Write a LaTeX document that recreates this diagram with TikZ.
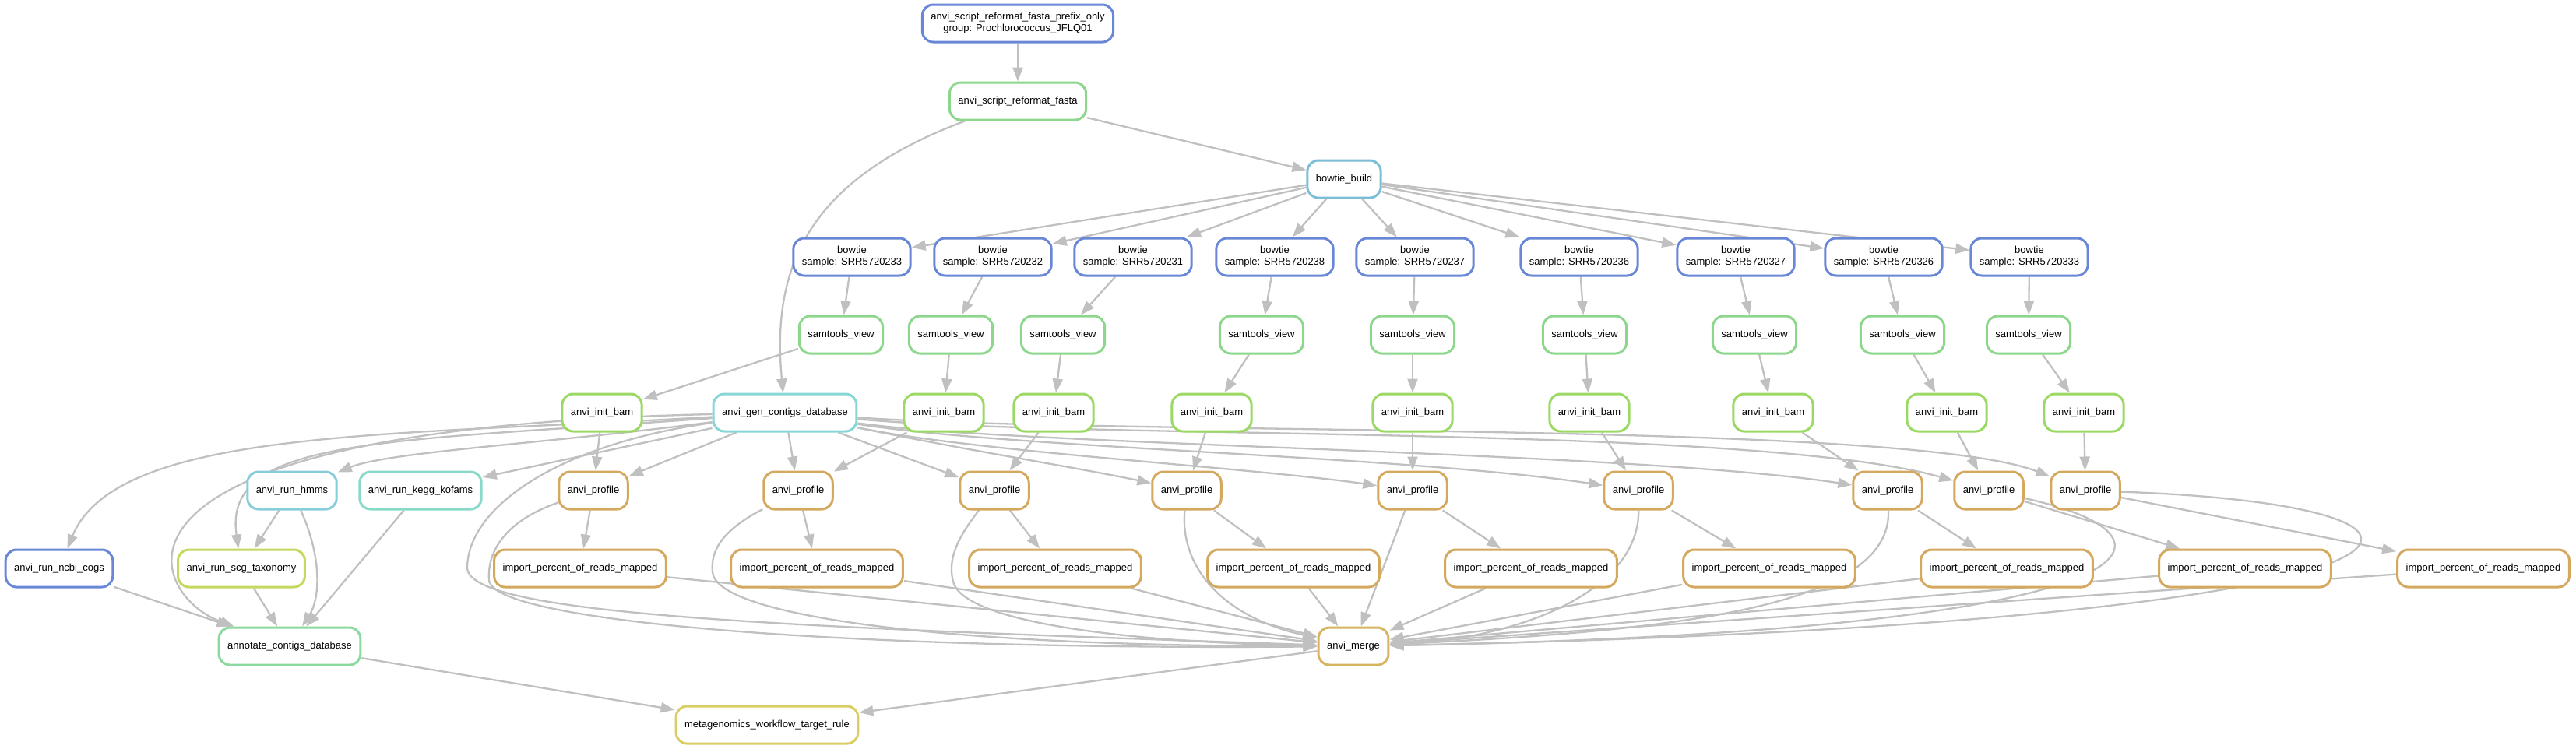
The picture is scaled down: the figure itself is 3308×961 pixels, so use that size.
\documentclass[tikz,border=0pt]{standalone}
\usepackage{fontspec}
\setmainfont{Liberation Sans}
\usetikzlibrary{arrows.meta}
\pgfdeclarelayer{background}
\pgfsetlayers{background,main}
\definecolor{cblue}{RGB}{105,135,215}
\definecolor{cbuild}{RGB}{125,190,215}
\definecolor{cgreen}{RGB}{140,215,140}
\definecolor{cinit}{RGB}{155,217,100}
\definecolor{cgen}{RGB}{135,215,215}
\definecolor{chmm}{RGB}{135,205,218}
\definecolor{ckegg}{RGB}{135,217,200}
\definecolor{cscg}{RGB}{195,217,95}
\definecolor{canno}{RGB}{140,217,160}
\definecolor{cgold}{RGB}{212,168,95}
\definecolor{cmerge}{RGB}{215,180,95}
\definecolor{ctarget}{RGB}{217,205,100}
\definecolor{depgray}{RGB}{192,192,192}
\begin{document}
\begin{tikzpicture}[x=1pt,y=-1pt]
	\tikzstyle{job}=[rectangle,rounded corners=14pt,line width=3pt,fill=white,minimum height=48pt,inner xsep=11pt,inner ysep=3pt,align=center,font=\fontsize{13}{15}\selectfont]
	\tikzstyle{dep}=[draw,line width=2.3pt,color=depgray,-{Triangle[length=18pt,width=13pt]}]
	\useasboundingbox (0,0) rectangle (3308,961);
	\begin{scope}
		% reference preparation
		\node [job,draw=cblue] (prefix) at (1307,30) {anvi\_script\_reformat\_fasta\_prefix\_only\\group: Prochlorococcus\_JFLQ01};
		\node [job,draw=cgreen] (reformat) at (1307,130) {anvi\_script\_reformat\_fasta};
		\node [job,draw=cbuild] (build) at (1726,230) {bowtie\_build};
		% mapping
		\node [job,draw=cblue] (bt1) at (1094,330) {bowtie\\sample: SRR5720233};
		\node [job,draw=cblue] (bt2) at (1275,330) {bowtie\\sample: SRR5720232};
		\node [job,draw=cblue] (bt3) at (1455,330) {bowtie\\sample: SRR5720231};
		\node [job,draw=cblue] (bt4) at (1637,330) {bowtie\\sample: SRR5720238};
		\node [job,draw=cblue] (bt5) at (1817,330) {bowtie\\sample: SRR5720237};
		\node [job,draw=cblue] (bt6) at (2028,330) {bowtie\\sample: SRR5720236};
		\node [job,draw=cblue] (bt7) at (2229,330) {bowtie\\sample: SRR5720327};
		\node [job,draw=cblue] (bt8) at (2419,330) {bowtie\\sample: SRR5720326};
		\node [job,draw=cblue] (bt9) at (2606,330) {bowtie\\sample: SRR5720333};
		\node [job,draw=cgreen] (sv1) at (1080,430) {samtools\_view};
		\node [job,draw=cgreen] (sv2) at (1221,430) {samtools\_view};
		\node [job,draw=cgreen] (sv3) at (1365,430) {samtools\_view};
		\node [job,draw=cgreen] (sv4) at (1620,430) {samtools\_view};
		\node [job,draw=cgreen] (sv5) at (1814,430) {samtools\_view};
		\node [job,draw=cgreen] (sv6) at (2035,430) {samtools\_view};
		\node [job,draw=cgreen] (sv7) at (2253,430) {samtools\_view};
		\node [job,draw=cgreen] (sv8) at (2443,430) {samtools\_view};
		\node [job,draw=cgreen] (sv9) at (2605,430) {samtools\_view};
		\node [job,draw=cinit] (ib1) at (773,530) {anvi\_init\_bam};
		\node [job,draw=cinit] (ib2) at (1212,530) {anvi\_init\_bam};
		\node [job,draw=cinit] (ib3) at (1353,530) {anvi\_init\_bam};
		\node [job,draw=cinit] (ib4) at (1556,530) {anvi\_init\_bam};
		\node [job,draw=cinit] (ib5) at (1814,530) {anvi\_init\_bam};
		\node [job,draw=cinit] (ib6) at (2041,530) {anvi\_init\_bam};
		\node [job,draw=cinit] (ib7) at (2277,530) {anvi\_init\_bam};
		\node [job,draw=cinit] (ib8) at (2500,530) {anvi\_init\_bam};
		\node [job,draw=cinit] (ib9) at (2676,530) {anvi\_init\_bam};
		% contigs
		\node [job,draw=cgen] (gen) at (1008,530) {anvi\_gen\_contigs\_database};
		\node [job,draw=chmm] (hmms) at (375,630) {anvi\_run\_hmms};
		\node [job,draw=ckegg] (kegg) at (540,630) {anvi\_run\_kegg\_kofams};
		\node [job,draw=cblue] (ncbi) at (76,730) {anvi\_run\_ncbi\_cogs};
		\node [job,draw=cscg] (scg) at (310,730) {anvi\_run\_scg\_taxonomy};
		\node [job,draw=canno] (anno) at (372,830) {annotate\_contigs\_database};
		% profiles
		\node [job,draw=cgold] (pr1) at (762,630) {anvi\_profile};
		\node [job,draw=cgold] (pr2) at (1025,630) {anvi\_profile};
		\node [job,draw=cgold] (pr3) at (1277,630) {anvi\_profile};
		\node [job,draw=cgold] (pr4) at (1524,630) {anvi\_profile};
		\node [job,draw=cgold] (pr5) at (1814,630) {anvi\_profile};
		\node [job,draw=cgold] (pr6) at (2104,630) {anvi\_profile};
		\node [job,draw=cgold] (pr7) at (2424,630) {anvi\_profile};
		\node [job,draw=cgold] (pr8) at (2554,630) {anvi\_profile};
		\node [job,draw=cgold] (pr9) at (2678,630) {anvi\_profile};
		\node [job,draw=cgold] (im1) at (745,730) {import\_percent\_of\_reads\_mapped};
		\node [job,draw=cgold] (im2) at (1049,730) {import\_percent\_of\_reads\_mapped};
		\node [job,draw=cgold] (im3) at (1355,730) {import\_percent\_of\_reads\_mapped};
		\node [job,draw=cgold] (im4) at (1661,730) {import\_percent\_of\_reads\_mapped};
		\node [job,draw=cgold] (im5) at (1966,730) {import\_percent\_of\_reads\_mapped};
		\node [job,draw=cgold] (im6) at (2272,730) {import\_percent\_of\_reads\_mapped};
		\node [job,draw=cgold] (im7) at (2577,730) {import\_percent\_of\_reads\_mapped};
		\node [job,draw=cgold] (im8) at (2883,730) {import\_percent\_of\_reads\_mapped};
		\node [job,draw=cgold] (im9) at (3189,730) {import\_percent\_of\_reads\_mapped};
		\node [job,draw=cmerge] (merge) at (1738,830) {anvi\_merge};
		\node [job,draw=ctarget] (target) at (985,931) {metagenomics\_workflow\_target\_rule};
	\end{scope}

	\begin{pgfonlayer}{background}
		% top of the graph
		\path[dep] (prefix) edge (reformat);
		\path[dep] (reformat) edge (build);
		\path[dep] (reformat) .. controls (1040,230) and (990,340) .. (gen);
		\path[dep] (build) edge (bt1);
		\path[dep] (build) edge (bt2);
		\path[dep] (build) edge (bt3);
		\path[dep] (build) edge (bt4);
		\path[dep] (build) edge (bt5);
		\path[dep] (build) edge (bt6);
		\path[dep] (build) edge (bt7);
		\path[dep] (build) edge (bt8);
		\path[dep] (build) edge (bt9);
		\path[dep] (bt1) edge (sv1);
		\path[dep] (bt2) edge (sv2);
		\path[dep] (bt3) edge (sv3);
		\path[dep] (bt4) edge (sv4);
		\path[dep] (bt5) edge (sv5);
		\path[dep] (bt6) edge (sv6);
		\path[dep] (bt7) edge (sv7);
		\path[dep] (bt8) edge (sv8);
		\path[dep] (bt9) edge (sv9);
		\path[dep] (sv1) edge (ib1);
		\path[dep] (sv2) edge (ib2);
		\path[dep] (sv3) edge (ib3);
		\path[dep] (sv4) edge (ib4);
		\path[dep] (sv5) edge (ib5);
		\path[dep] (sv6) edge (ib6);
		\path[dep] (sv7) edge (ib7);
		\path[dep] (sv8) edge (ib8);
		\path[dep] (sv9) edge (ib9);
		\path[dep] (ib1) edge (pr1);
		\path[dep] (ib2) edge (pr2);
		\path[dep] (ib3) edge (pr3);
		\path[dep] (ib4) edge (pr4);
		\path[dep] (ib5) edge (pr5);
		\path[dep] (ib6) edge (pr6);
		\path[dep] (ib7) edge (pr7);
		\path[dep] (ib8) edge (pr8);
		\path[dep] (ib9) edge (pr9);

		% contigs database to the profiles
		\path[dep] (gen) edge (pr1);
		\path[dep] (gen) edge (pr2);
		\path[dep] (gen) edge (pr3);
		\path[dep] (gen) .. controls (1250,580) and (1380,600) .. (pr4);
		\path[dep] (gen) .. controls (1250,580) and (1600,600) .. (pr5);
		\path[dep] (gen) .. controls (1300,576) and (1800,585) .. (pr6);
		\path[dep] (gen) .. controls (1300,572) and (2100,580) .. (pr7);
		\path[dep] (gen) .. controls (1400,565) and (2250,545) .. (pr8);
		\path[dep] (gen) .. controls (1450,560) and (2450,540) .. (pr9);

		% annotation branch
		\path[dep] (gen) .. controls (500,560) and (150,550) .. (ncbi);
		\path[dep] (gen) .. controls (500,568) and (285,560) .. (scg);
		\path[dep] (gen) .. controls (700,570) and (500,580) .. (hmms);
		\path[dep] (gen) edge (kegg);
		\path[dep] (gen) .. controls (80,550) and (190,765) .. (anno);
		\path[dep] (hmms) edge (scg);
		\path[dep] (hmms) .. controls (415,720) and (410,770) .. (anno);
		\path[dep] (kegg) edge (anno);
		\path[dep] (ncbi) edge (anno);
		\path[dep] (scg) edge (anno);

		% profiles to the merge
		\path[dep] (pr1) edge (im1);
		\path[dep] (pr2) edge (im2);
		\path[dep] (pr3) edge (im3);
		\path[dep] (pr4) edge (im4);
		\path[dep] (pr5) edge (im5);
		\path[dep] (pr6) edge (im6);
		\path[dep] (pr7) edge (im7);
		\path[dep] (pr8) edge (im8);
		\path[dep] (pr9) edge (im9);
		\path[dep] (im1) edge (merge);
		\path[dep] (im2) edge (merge);
		\path[dep] (im3) edge (merge);
		\path[dep] (im4) edge (merge);
		\path[dep] (im5) edge (merge);
		\path[dep] (im6) edge (merge);
		\path[dep] (im7) edge (merge);
		\path[dep] (im8) edge (merge);
		\path[dep] (im9) edge (merge);
		\path[dep] (gen) .. controls (720,570) and (600,650) .. (600,730) .. controls (605,790) and (1000,805) .. (merge);
		\path[dep] (pr1) .. controls (660,665) and (625,700) .. (628,745) .. controls (632,800) and (1100,835) .. (merge);
		\path[dep] (pr2) .. controls (930,680) and (912,705) .. (915,735) .. controls (920,790) and (1200,830) .. (merge);
		\path[dep] (pr3) .. controls (1230,690) and (1215,720) .. (1225,750) .. controls (1245,800) and (1450,825) .. (merge);
		\path[dep] (pr4) .. controls (1515,720) and (1560,790) .. (merge);
		\path[dep] (pr5) edge (merge);
		\path[dep] (pr6) .. controls (2105,760) and (1950,820) .. (merge);
		\path[dep] (pr7) .. controls (2430,780) and (2150,810) .. (merge);
		\path[dep] (pr8) .. controls (2830,690) and (2790,810) .. (merge);
		\path[dep] (pr9) .. controls (3250,650) and (3200,800) .. (merge);

		% target rule
		\path[dep] (anno) edge (target);
		\path[dep] (merge) edge (target);
	\end{pgfonlayer}
\end{tikzpicture}
\end{document}
